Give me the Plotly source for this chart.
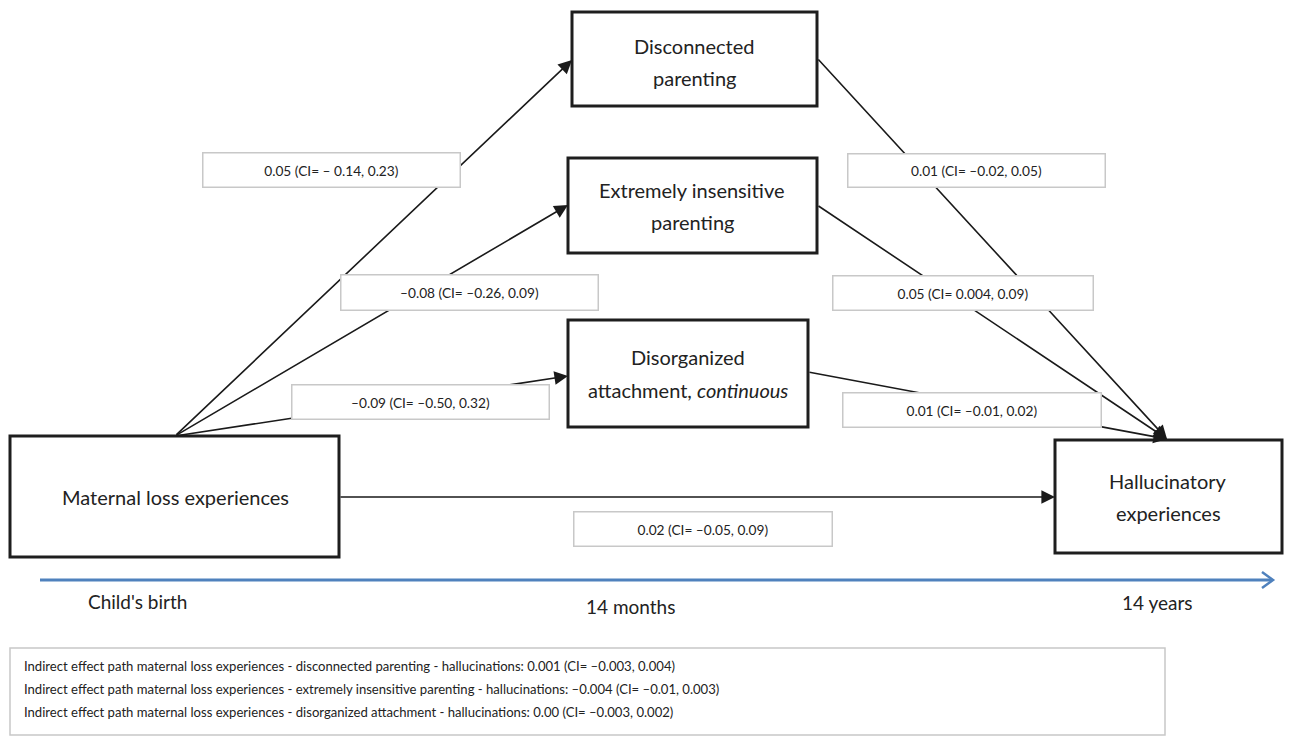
import plotly.graph_objects as go

# Path model: maternal loss -> mediators -> hallucinatory experiences
node_names = ["Maternal loss experiences", "Disconnected parenting",
              "Extremely insensitive parenting", "Disorganized attachment, continuous",
              "Hallucinatory experiences"]

# a-paths (exposure -> mediator): estimate, CI low, CI high
a_est = ["0.05", "\u20130.08", "\u20130.09"]
a_lo = ["\u2013 0.14", "\u20130.26", "\u20130.50"]
a_hi = ["0.23", "0.09", "0.32"]

# b-paths (mediator -> outcome)
b_est = ["0.01", "0.05", "0.01"]
b_lo = ["\u20130.02", "0.004", "\u20130.01"]
b_hi = ["0.05", "0.09", "0.02"]

# direct path
c_est, c_lo, c_hi = "0.02", "\u20130.05", "0.09"

# timeline
time_labels = ["Child's birth", "14 months", "14 years"]

# indirect effects
ind_mediators = ["disconnected parenting", "extremely insensitive parenting", "disorganized attachment"]
ind_est = ["0.001", "\u20130.004", "0.00"]
ind_lo = ["\u20130.003", "\u20130.01", "\u20130.003"]
ind_hi = ["0.004", "0.003", "0.002"]

W, H = 1290, 736
FONT = "Lato, 'Open Sans', sans-serif"
TXT = "#222222"

fig = go.Figure()
fig.add_trace(go.Scatter(x=[0, W], y=[0, H], mode="markers",
                         marker=dict(opacity=0), hoverinfo="skip", showlegend=False))

shapes = []
annotations = []

# node boxes (x0, y0, x1, y1)
boxes = {
    "exp": (10, 436, 339, 557),
    "m1": (572, 12, 817, 106),
    "m2": (568, 158, 817, 253),
    "m3": (568, 320, 808, 427),
    "out": (1055, 440, 1282, 553),
}
for b in boxes.values():
    shapes.append(dict(type="rect", x0=b[0], y0=b[1], x1=b[2], y1=b[3],
                       line=dict(color="#1e1e1e", width=3), fillcolor="white", layer="below"))

def arrow(x0, y0, x1, y1):
    annotations.append(dict(x=x1, y=y1, ax=x0, ay=y0, xref="x", yref="y", axref="x", ayref="y",
                            text="", showarrow=True, arrowhead=2, arrowsize=1.7,
                            arrowwidth=1.6, arrowcolor="#1a1a1a", standoff=0, startstandoff=0))

# a-paths
arrow(175, 436, 572, 60)
arrow(175, 436, 568, 205)
arrow(175, 436, 568, 376)
# direct path
arrow(339, 497, 1055, 497)
# b-paths
arrow(817, 58, 1167, 439)
arrow(817, 205, 1167, 439)
arrow(808, 372, 1167, 439)

def text(x, y, s, size=20, anchor="center"):
    annotations.append(dict(x=x, y=y, xref="x", yref="y", text=s, showarrow=False,
                            xanchor=anchor, yanchor="middle",
                            font=dict(family=FONT, size=size, color=TXT)))

def label_box(x0, y0, x1, y1, s):
    annotations.append(dict(x=(x0 + x1) / 2, y=(y0 + y1) / 2, xref="x", yref="y", text=s,
                            showarrow=False, xanchor="center", yanchor="middle",
                            width=x1 - x0 - 2, height=y1 - y0 - 2, bgcolor="white",
                            bordercolor="#c8c8c8", borderwidth=1.5, borderpad=0,
                            font=dict(family=FONT, size=13.7, color=TXT)))

def ci(est, lo, hi):
    return f"{est} (CI= {lo}, {hi})"

# path labels
label_box(202, 152, 460, 187, ci(a_est[0], a_lo[0], a_hi[0]))
label_box(340, 274, 598, 310, ci(a_est[1], a_lo[1], a_hi[1]))
label_box(291, 384, 549, 419, ci(a_est[2], a_lo[2], a_hi[2]))
label_box(847, 153, 1105, 187, ci(b_est[0], b_lo[0], b_hi[0]))
label_box(832, 275, 1093, 310, ci(b_est[1], b_lo[1], b_hi[1]))
label_box(842, 392, 1101, 427, ci(b_est[2], b_lo[2], b_hi[2]))
label_box(573, 511, 832, 546, ci(c_est, c_lo, c_hi))

# node texts
text(694, 46, "Disconnected")
text(694, 78, "parenting")
text(692, 190, "Extremely insensitive")
text(692, 222, "parenting")
text(688, 357, "Disorganized")
text(688, 390, "attachment, <i>continuous</i>")
text(175, 497, node_names[0])
text(1168, 481, "Hallucinatory")
text(1168, 513, "experiences")

# timeline
shapes.append(dict(type="line", x0=40, y0=580, x1=1272, y1=580,
                   line=dict(color="#4f81bd", width=3)))
shapes.append(dict(type="path", path="M 1262,572 L 1273,580 L 1262,588",
                   line=dict(color="#4f81bd", width=2.5)))
text(137, 601, time_labels[0], size=19)
text(630, 606, time_labels[1], size=19)
text(1157, 602, time_labels[2], size=19)

# indirect effects box
shapes.append(dict(type="rect", x0=10, y0=648, x1=1165, y1=735,
                   line=dict(color="#c8c8c8", width=1.5), fillcolor="white", layer="below"))
for i, (m, e, lo, hi) in enumerate(zip(ind_mediators, ind_est, ind_lo, ind_hi)):
    s = (f"Indirect effect path maternal loss experiences - {m} - hallucinations: "
         f"{e} (CI= {lo}, {hi})")
    text(22, 666 + 23 * i, s, size=13.1, anchor="left")

fig.update_layout(
    width=W, height=H, margin=dict(l=0, r=0, t=0, b=0),
    paper_bgcolor="white", plot_bgcolor="white",
    xaxis=dict(range=[0, W], visible=False, fixedrange=True),
    yaxis=dict(range=[H, 0], visible=False, fixedrange=True),
    shapes=shapes, annotations=annotations, showlegend=False,
)
fig.write_html("out.html")
